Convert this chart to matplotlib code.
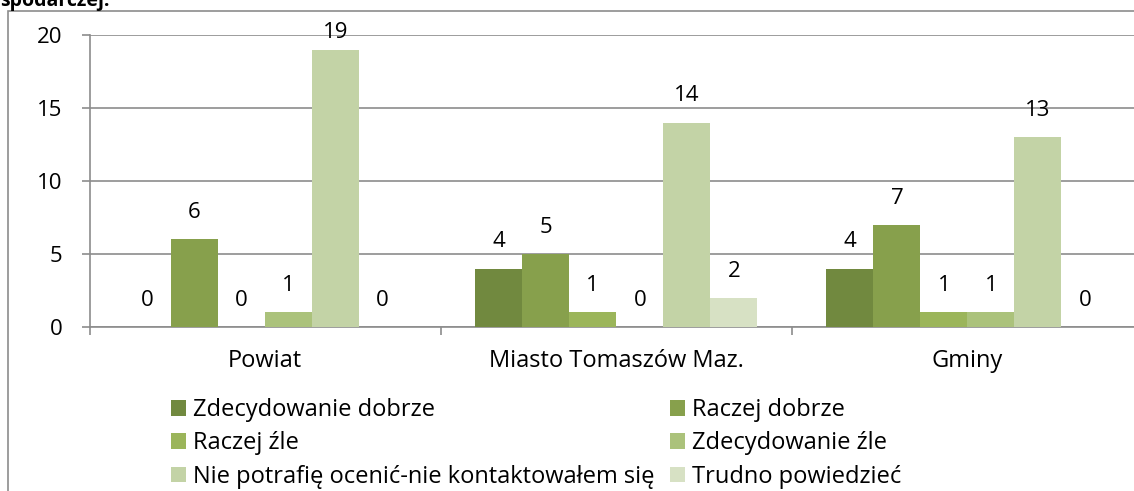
import matplotlib.pyplot as plt
from matplotlib.patches import Rectangle
import numpy as np

plt.rcParams['font.family'] = ['Open Sans', 'DejaVu Sans']

categories = ["Powiat", "Miasto Tomaszów Maz.", "Gminy"]
series = ["Zdecydowanie dobrze", "Raczej dobrze", "Raczej źle",
          "Zdecydowanie źle", "Nie potrafię ocenić-nie kontaktowałem się",
          "Trudno powiedzieć"]
zdec_dobrze = [0, 4, 4]
raczej_dobrze = [6, 5, 7]
raczej_zle = [0, 1, 1]
zdec_zle = [1, 0, 1]
nie_potrafie = [19, 14, 13]
trudno = [0, 2, 0]
values = [zdec_dobrze, raczej_dobrze, raczej_zle, zdec_zle, nie_potrafie, trudno]
colors = ["#71893f", "#87a04c", "#9bb55a", "#abc27b", "#c3d3a6", "#d7e1c4"]

W, H = 1134, 491
FS = 16    # numbers
FT = 17    # words
fig = plt.figure(figsize=(W / 100, H / 100), dpi=100)
ax = fig.add_axes([89.5 / W, 1 - 327 / H, (1143 - 89.5) / W, (327 - 35) / H])

x = np.arange(len(categories))
w = 47 / 351
handles = []
for i, (name, vals, c) in enumerate(zip(series, values, colors)):
    bars = ax.bar(x + (i - 2.5) * w, vals, w, color=c, label=name, zorder=3)
    handles.append(bars)
    for xi, v in zip(x + (i - 2.5) * w, vals):
        ax.text(xi, min(v + 1.83, 20.2), str(v), ha='center', va='center',
                fontsize=FS, zorder=4)

ax.set_xlim(-0.5, 2.5)
ax.set_ylim(0, 20)
ax.set_yticks(range(0, 21, 5))
ax.grid(axis='y', color='#8c8c8c', lw=1.2, zorder=0)
for s in ['top', 'right']:
    ax.spines[s].set_visible(False)
for s in ['left', 'bottom']:
    ax.spines[s].set_color('#8c8c8c')
    ax.spines[s].set_linewidth(1.2)
ax.set_xticks(x)
ax.set_xticklabels(categories)
ax.set_xticks([-0.5, 0.5, 1.5, 2.5], minor=True)
ax.tick_params(axis='x', which='major', length=0, pad=16, labelsize=FT)
ax.tick_params(axis='x', which='minor', length=5.5, width=1.2, color='#8c8c8c')
ax.tick_params(axis='y', length=5.5, width=1.2, color='#8c8c8c', pad=14, labelsize=FS)

# chart frame, cropped at right and bottom
fig.patches.append(Rectangle((7.5 / W, -0.1), 1.2, 1 - 10.7 / H + 0.1,
                             transform=fig.transFigure, fill=False,
                             ec='#8c8c8c', lw=1.2))

# cropped title at top
fig.text(0, 1 - 6 / H, "spodarczej.", fontsize=14, fontweight='bold',
         ha='left', va='baseline')

rows = [handles[0], handles[2], handles[4], handles[1], handles[3], handles[5]]
fig.legend(rows, [series[0], series[2], series[4], series[1], series[3], series[5]],
           ncol=2, loc='upper left', bbox_to_anchor=(171 / W, 1 - 398 / H),
           frameon=False, fontsize=FT, handlelength=0.64, handleheight=0.64,
           handletextpad=0.3, labelspacing=0.4, columnspacing=0.64,
           borderpad=0, borderaxespad=0)

fig.savefig("out.png", dpi=100)
